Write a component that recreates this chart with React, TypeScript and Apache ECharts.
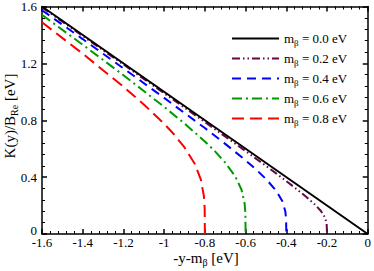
import React, { useEffect, useRef } from "react";
import * as echarts from "echarts";

// tick values
const xTicks = [-1.6, -1.4, -1.2, -1, -0.8, -0.6, -0.4, -0.2, 0];
const yTicks = [0, 0.4, 0.8, 1.2, 1.6];

// legend labels (m_beta values)
const massLabels = ["0.0", "0.2", "0.4", "0.6", "0.8"];

// series: [x = -y - m_beta, K(y)/B_Re]
const m00 = [[-1.6, 1.6], [0, 0]];
const m02 = [
  [-1.6, 1.594], [-1.4, 1.393], [-1.2, 1.192], [-1.0, 0.99], [-0.8, 0.787],
  [-0.6, 0.583], [-0.5, 0.479], [-0.45, 0.426], [-0.4, 0.372], [-0.35, 0.317],
  [-0.3, 0.259], [-0.26, 0.208], [-0.23, 0.162], [-0.21, 0.116], [-0.202, 0.076], [-0.2, 0],
];
const m04 = [
  [-1.6, 1.574], [-1.4, 1.371], [-1.2, 1.165], [-1.0, 0.957], [-0.8, 0.745],
  [-0.7, 0.634], [-0.6, 0.518], [-0.55, 0.456], [-0.5, 0.387], [-0.45, 0.305],
  [-0.42, 0.232], [-0.405, 0.16], [-0.401, 0.107], [-0.4, 0],
];
const m06 = [
  [-1.6, 1.541], [-1.4, 1.331], [-1.2, 1.117], [-1.0, 0.894], [-0.9, 0.777],
  [-0.8, 0.651], [-0.75, 0.581], [-0.7, 0.502], [-0.65, 0.403], [-0.62, 0.311],
  [-0.605, 0.217], [-0.601, 0.144], [-0.6, 0],
];
const m08 = [
  [-1.6, 1.489], [-1.4, 1.268], [-1.2, 1.036], [-1.1, 0.911], [-1.0, 0.775],
  [-0.95, 0.698], [-0.9, 0.609], [-0.85, 0.494], [-0.82, 0.384], [-0.805, 0.269],
  [-0.801, 0.179], [-0.8, 0],
];

const seriesData = [m00, m02, m04, m06, m08];
const colors = ["#000000", "#670748", "#0000ff", "#009a00", "#ff0000"];
const dashes: any[] = [
  "solid",
  [8, 3, 1.5, 3, 1.5, 3],
  [9, 6],
  [10, 4, 2, 4],
  [12, 6],
];

const FONT = "'Liberation Serif', 'DejaVu Serif', serif";

export default function App() {
  const ref = useRef<HTMLDivElement>(null);
  useEffect(() => {
    if (!ref.current) return;
    const chart = echarts.init(ref.current, null, { renderer: "svg" });
    const axisCommon = {
      min: xTicks[0],
      max: xTicks[xTicks.length - 1],
      interval: 0.2,
    };
    const yCommon = {
      min: yTicks[0],
      max: yTicks[yTicks.length - 1],
      interval: 0.4,
    };
    const lineStyleAxis = { lineStyle: { color: "#000", width: 1.5 } };
    const tickIn = { inside: true, length: 5, lineStyle: { color: "#000", width: 1.5 } };
    const minorIn = (n: number) => ({
      show: true,
      splitNumber: n,
      length: 3,
      lineStyle: { color: "#000", width: 1 },
    });
    const option: any = {
      animation: false,
      grid: { left: 42, right: 5, top: 6, bottom: 37, containLabel: false },
      xAxis: [
        {
          type: "value",
          ...axisCommon,
          position: "bottom",
          axisLine: { show: true, onZero: false, ...lineStyleAxis },
          axisTick: tickIn,
          minorTick: minorIn(5),
          splitLine: { show: false },
          axisLabel: {
            margin: 2,
            color: "#000",
            fontFamily: FONT,
            fontSize: 13,
            formatter: (v: number) => String(Math.round(v * 10) / 10),
          },
        },
        {
          type: "value",
          ...axisCommon,
          position: "top",
          axisLine: { show: true, onZero: false, ...lineStyleAxis },
          axisTick: tickIn,
          minorTick: minorIn(5),
          splitLine: { show: false },
          axisLabel: { show: false },
        },
      ],
      yAxis: [
        {
          type: "value",
          ...yCommon,
          position: "left",
          axisLine: { show: true, onZero: false, ...lineStyleAxis },
          axisTick: tickIn,
          minorTick: minorIn(5),
          splitLine: { show: false },
          axisLabel: {
            margin: 5,
            color: "#000",
            fontFamily: FONT,
            fontSize: 13,
            formatter: (v: number) =>
              v === 0 ? "{z|0}" : String(Math.round(v * 10) / 10),
            rich: {
              z: { fontFamily: FONT, fontSize: 13, color: "#000", padding: [0, 0, 7, 0] },
            },
          },
        },
        {
          type: "value",
          ...yCommon,
          position: "right",
          axisLine: { show: true, onZero: false, ...lineStyleAxis },
          axisTick: tickIn,
          minorTick: minorIn(5),
          splitLine: { show: false },
          axisLabel: { show: false },
        },
      ],
      legend: {
        orient: "vertical",
        left: 226,
        top: 25,
        itemWidth: 47,
        itemHeight: 14,
        itemGap: 3,
        data: massLabels,
        itemStyle: { color: "rgba(0,0,0,0)", borderColor: "rgba(0,0,0,0)", borderWidth: 0 },
        formatter: (name: string) => `{n|m}{s|β}{n| = ${name} eV}`,
        textStyle: {
          color: "#000",
          fontFamily: FONT,
          fontSize: 13,
          rich: {
            n: { fontFamily: FONT, fontSize: 13, color: "#000", lineHeight: 14 },
            s: { fontFamily: FONT, fontSize: 9, color: "#000", lineHeight: 8, padding: [8, 0, 0, 0] },
          },
        },
      },
      graphic: [
        {
          type: "text",
          x: 10,
          y: 116,
          rotation: Math.PI / 2,
          style: {
            text: "{n|K(y)/B}{s|Re}{n| [eV]}",
            align: "center",
            verticalAlign: "middle",
            fill: "#000",
            rich: {
              n: { fontFamily: FONT, fontSize: 15, fill: "#000", lineHeight: 16 },
              s: { fontFamily: FONT, fontSize: 10, fill: "#000", lineHeight: 9, padding: [9, 0, 0, 0] },
            },
          },
        },
        {
          type: "text",
          x: 206,
          y: 258,
          style: {
            text: "{n|-y-m}{s|β}{n| [eV]}",
            align: "center",
            verticalAlign: "middle",
            fill: "#000",
            rich: {
              n: { fontFamily: FONT, fontSize: 15, fill: "#000", lineHeight: 16 },
              s: { fontFamily: FONT, fontSize: 10, fill: "#000", lineHeight: 9, padding: [9, 0, 0, 0] },
            },
          },
        },
      ],
      series: seriesData.map((d, i) => ({
        name: massLabels[i],
        type: "line",
        data: d,
        symbol: "none",
        clip: true,
        color: colors[i],
        lineStyle: { color: colors[i], width: 2, type: dashes[i] },
        z: 10 - i,
      })),
    };
    chart.setOption(option);
    return () => chart.dispose();
  }, []);
  return <div ref={ref} style={{ width: 374, height: 271, position: "absolute", left: 0, top: 0 }} />;
}
